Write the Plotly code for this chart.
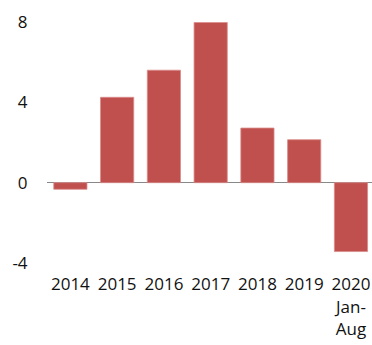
import plotly.graph_objects as go

years = ["2014", "2015", "2016", "2017", "2018", "2019", "2020<br>Jan-<br>Aug"]
growth = [-0.33, 4.25, 5.6, 7.98, 2.72, 2.14, -3.43]
y_ticks = [-4, 0, 4, 8]

fig = go.Figure()
fig.add_trace(go.Bar(
    x=list(range(len(years))), y=growth,
    marker=dict(color="#C0504D", line=dict(color="#D98C8A", width=0.8)),
    width=0.71,
))

fig.update_layout(
    width=372, height=345,
    margin=dict(l=47, r=0, t=22, b=82),
    plot_bgcolor="white", paper_bgcolor="white",
    showlegend=False,
    font=dict(family="Open Sans", size=17, color="#111111"),
    xaxis=dict(
        tickmode="array", tickvals=list(range(len(years))), ticktext=years,
        range=[-0.5, 6.45], showgrid=False, showline=False, zeroline=False,
        ticks="outside", ticklen=6, tickcolor="rgba(0,0,0,0)",
    ),
    yaxis=dict(
        tickmode="array", tickvals=y_ticks, ticktext=[str(v) for v in y_ticks],
        range=[-4, 8], showgrid=False, showline=False,
        zeroline=True, zerolinecolor="#888888", zerolinewidth=1.3,
        ticks="outside", ticklen=15, tickcolor="rgba(0,0,0,0)",
    ),
)

# page body has an 8px default margin; drop it so the chart sits at the corner
fig.write_html("out.html", config={"displayModeBar": False},
               post_script="document.body.style.margin='0';")
